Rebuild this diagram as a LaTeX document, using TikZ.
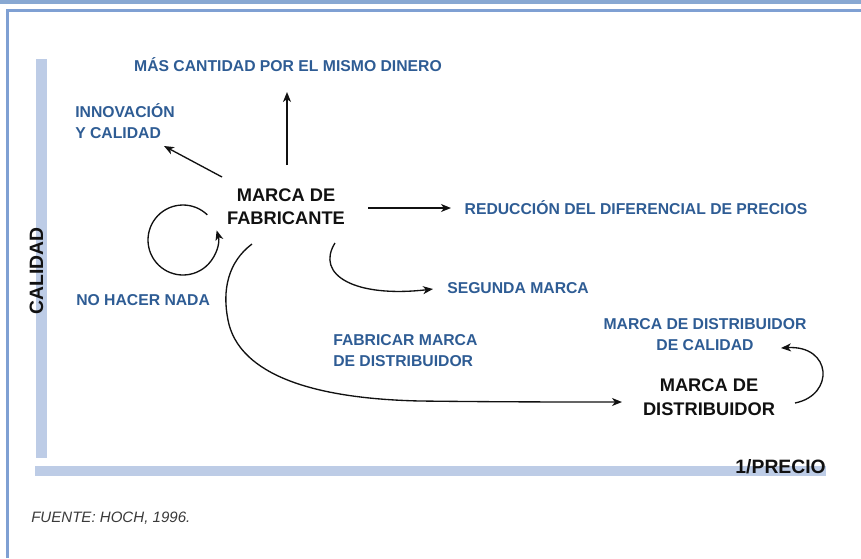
\documentclass[tikz,border=0pt]{standalone}
\usepackage{fontspec}
\setmainfont{Liberation Sans}
\usetikzlibrary{arrows.meta,calc}
\definecolor{bandblue}{HTML}{88A8D2}
\definecolor{frameblue}{HTML}{7FA0D3}
\definecolor{barblue}{HTML}{BDCCE6}
\definecolor{labelblue}{HTML}{2E5C94}
\definecolor{ink}{HTML}{111111}
\definecolor{srcgray}{HTML}{3A3A3A}
\tikzset{
  bluelabel/.style={text=labelblue, inner sep=0pt, font=\fontsize{11.8}{15.75}\selectfont\bfseries},
  blacklabel/.style={text=ink, inner sep=0pt, align=center, font=\fontsize{13.7}{17.6}\selectfont\bfseries},
  axislabel/.style={text=ink, inner sep=0pt, font=\fontsize{14.5}{17}\selectfont\bfseries},
  srclabel/.style={text=srcgray, inner sep=0pt, font=\fontsize{11.3}{14}\selectfont\itshape},
  arr/.style={draw=ink, line width=1pt, -{Stealth[length=7.5pt,width=6pt,inset=2.2pt]}},
}
\begin{document}
\begin{tikzpicture}[x=0.75pt,y=-0.75pt]
\useasboundingbox (0,0) rectangle (861,558);
% frame
\fill[bandblue] (0,0) rectangle (861,3.5);
\draw[frameblue, line width=2pt] (7.5,558) -- (7.5,10.5) -- (861,10.5);
% axes
\fill[barblue] (36,59) rectangle (46.5,458);
\fill[barblue] (35,466) rectangle (826,476);
\node[axislabel, rotate=90] (cal) at (36.5,271) {CALIDAD};
\node[axislabel, anchor=east] (pre) at (826,467) {1/PRECIO};
\node[srclabel, anchor=west] (src) at (31,518.5) {FUENTE: HOCH, 1996.};
% labels
\node[bluelabel] (mas) at (288,64.5) {MÁS CANTIDAD POR EL MISMO DINERO};
\node[bluelabel, anchor=west, align=left] (inn) at (75,121) {INNOVACIÓN\\Y CALIDAD};
\node[blacklabel] (fab) at (286,206.5) {MARCA DE\\FABRICANTE};
\node[bluelabel] (red) at (636,207.5) {REDUCCIÓN DEL DIFERENCIAL DE PRECIOS};
\node[bluelabel, anchor=west] (seg) at (447,288) {SEGUNDA MARCA};
\node[bluelabel, anchor=west] (nada) at (76,300) {NO HACER NADA};
\node[bluelabel, anchor=west, align=left] (fabdis) at (333,350.5) {FABRICAR MARCA\\DE DISTRIBUIDOR};
\node[bluelabel, align=center] (dcal) at (705,334.5) {MARCA DE DISTRIBUIDOR\\DE CALIDAD};
\node[blacklabel] (dis) at (709,397) {MARCA DE\\DISTRIBUIDOR};
% arrow ends
\coordinate (upS) at (287,165);
\coordinate (upE) at (287,92);
\coordinate (inS) at (222,177);
\coordinate (inE) at (164,146);
\coordinate (rS) at (368,208);
\coordinate (rE) at (451,208);
\coordinate (sS) at (335,243);
\coordinate (sE) at (433,289);
\coordinate (lC) at (183,240);
\coordinate (bS) at (252,244);
\coordinate (bE) at (622,402);
\coordinate (qS) at (795,403);
\coordinate (qE) at (781,348);
% arrows
\draw[arr] (upS) -- (upE);
\draw[arr] (inS) -- (inE);
\draw[arr] (rS) -- (rE);
\draw[arr] (sS) .. controls (315,275) and (355,298) .. (sE);
\draw[arr] ($(lC)+(-46:35)$) arc[start angle=-46, end angle=-376, radius=35];
\draw[arr] (bS) .. controls (228,262) and (222,290) .. (228,320)
  .. controls (236,362) and (285,398) .. (420,401) .. controls (500,402) and (570,402) .. (bE);
\draw[arr] (qS) .. controls (835,395) and (832,345) .. (qE);
\end{tikzpicture}
\end{document}
